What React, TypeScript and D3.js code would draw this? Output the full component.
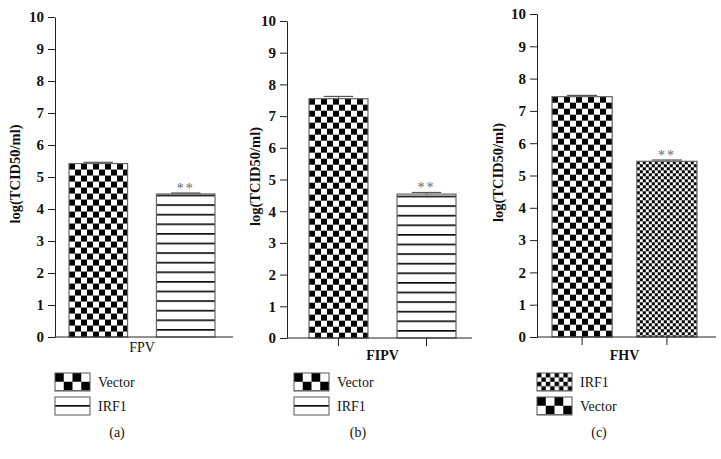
import React from "react";
import * as d3 from "d3";

// data
const panelNames = ["(a)", "(b)", "(c)"];
const virusNames = ["FPV", "FIPV", "FHV"];
const groups = ["Vector", "IRF1"];
const vectorMeans = [5.42, 7.55, 7.44];
const vectorErrs = [0.04, 0.07, 0.04];
const irf1Means = [4.47, 4.54, 5.44];
const irf1Errs = [0.03, 0.05, 0.04];
const yTicks = [0, 1, 2, 3, 4, 5, 6, 7, 8, 9, 10];
const legendOrder = [["Vector", "IRF1"], ["Vector", "IRF1"], ["IRF1", "Vector"]];
const irf1Fill = ["stripes", "stripes", "fine"];

const layout = [
  { axisX: 55, xEnd: 233, yTop: 17, yBottom: 337, bars: [69, 215], pad: 0.33, labelX: 15, nameY: 352, bold: false, ticks: false, legendX: 55, figX: 117 },
  { axisX: 287, xEnd: 472, yTop: 21, yBottom: 338, bars: [309, 456], pad: 0.33, labelX: 255, nameY: 360, bold: true, ticks: true, legendX: 294, figX: 358 },
  { axisX: 537, xEnd: 716, yTop: 14, yBottom: 337, bars: [552, 697], pad: 0.29, labelX: 498, nameY: 360, bold: true, ticks: true, legendX: 537, figX: 599 },
];

const FONT = '"Liberation Serif", "Times New Roman", serif';

const App = () => {
  const ref = React.useRef<SVGSVGElement>(null);

  React.useEffect(() => {
    const svg = d3.select(ref.current);
    svg.selectAll("*").remove();
    const defs = svg.append("defs");
    let pid = 0;

    // checker or stripe pattern anchored at (x0, y0)
    const makePattern = (kind: string, cell: number, x0: number, y0: number) => {
      const id = "pat" + pid++;
      if (kind === "stripes") {
        const p = defs.append("pattern")
          .attr("id", id)
          .attr("patternUnits", "userSpaceOnUse")
          .attr("x", x0).attr("y", y0)
          .attr("width", 20).attr("height", cell);
        p.append("rect").attr("width", 20).attr("height", cell).attr("fill", "white");
        p.append("rect").attr("y", 0).attr("width", 20).attr("height", 1.7).attr("fill", "#111");
      } else {
        const p = defs.append("pattern")
          .attr("id", id)
          .attr("patternUnits", "userSpaceOnUse")
          .attr("x", x0).attr("y", y0)
          .attr("width", cell * 2).attr("height", cell * 2);
        p.append("rect").attr("width", cell * 2).attr("height", cell * 2).attr("fill", "white");
        p.append("rect").attr("width", cell).attr("height", cell).attr("fill", "black");
        p.append("rect").attr("x", cell).attr("y", cell).attr("width", cell).attr("height", cell).attr("fill", "black");
      }
      return "url(#" + id + ")";
    };

    layout.forEach((L, i) => {
      const g = svg.append("g");
      const y = d3.scaleLinear().domain([0, 10]).range([L.yBottom, L.yTop]);
      const x = d3.scaleBand().domain(groups).range(L.bars).paddingInner(L.pad).paddingOuter(0);
      const means = [vectorMeans[i], irf1Means[i]];
      const errs = [vectorErrs[i], irf1Errs[i]];

      // y axis
      const yAxis = g.append("g")
        .attr("transform", `translate(${L.axisX},0)`)
        .call(d3.axisLeft(y).tickValues(yTicks).tickFormat(d3.format("d")).tickSize(7).tickSizeOuter(0).tickPadding(4));
      yAxis.select(".domain").attr("stroke", "#222");
      yAxis.selectAll(".tick line").attr("stroke", "#222");
      yAxis.selectAll("text")
        .attr("font-family", FONT).attr("font-size", "15px").attr("font-weight", "bold").attr("fill", "#111");

      // bars
      groups.forEach((grp, k) => {
        const bx = x(grp) as number;
        const top = y(means[k]);
        let fill;
        if (grp === "Vector") fill = makePattern("checker", 6, bx, top);
        else if (irf1Fill[i] === "fine") fill = makePattern("checker", 3, bx, top);
        else fill = makePattern("stripes", 9.6, bx, L.yBottom - 8);
        g.append("rect")
          .attr("x", bx).attr("y", top)
          .attr("width", x.bandwidth()).attr("height", L.yBottom - top)
          .attr("fill", fill)
          .attr("stroke", "#666").attr("stroke-width", 1.2);

        // error bar
        const cx = bx + x.bandwidth() / 2;
        const ey = y(means[k] + errs[k]);
        g.append("line").attr("x1", cx).attr("x2", cx).attr("y1", top).attr("y2", ey).attr("stroke", "#555");
        g.append("line").attr("x1", cx - x.bandwidth() / 4).attr("x2", cx + x.bandwidth() / 4)
          .attr("y1", ey).attr("y2", ey).attr("stroke", "#555").attr("stroke-width", 1.2);

        if (grp === "IRF1") {
          g.append("text")
            .attr("x", cx).attr("y", ey)
            .attr("text-anchor", "middle")
            .attr("font-family", FONT).attr("font-size", "14px").attr("fill", "#666")
            .attr("letter-spacing", "2px")
            .text("**");
        }
      });

      // x axis
      g.append("line")
        .attr("x1", L.axisX).attr("x2", L.xEnd)
        .attr("y1", L.yBottom).attr("y2", L.yBottom)
        .attr("stroke", "#222");
      if (L.ticks) {
        groups.forEach((grp) => {
          const cx = (x(grp) as number) + x.bandwidth() / 2;
          g.append("line").attr("x1", cx).attr("x2", cx)
            .attr("y1", L.yBottom).attr("y2", L.yBottom + 8).attr("stroke", "#222");
        });
      }
      g.append("text")
        .attr("x", (L.bars[0] + L.bars[1]) / 2).attr("y", L.nameY)
        .attr("text-anchor", "middle")
        .attr("font-family", FONT).attr("font-size", "14px")
        .attr("font-weight", L.bold ? "bold" : "normal").attr("fill", "#111")
        .text(virusNames[i]);

      // y label
      g.append("text")
        .attr("transform", `translate(${L.labelX + 5},${(L.yTop + L.yBottom) / 2 - 3}) rotate(-90)`)
        .attr("text-anchor", "middle")
        .attr("font-family", FONT).attr("font-size", "14.5px").attr("font-weight", "bold").attr("fill", "#111")
        .text("log(TCID50/ml)");

      // legend
      legendOrder[i].forEach((grp, k) => {
        const ly = 373 + k * 24;
        let fill;
        if (grp === "Vector") fill = makePattern("checker", 8.75, L.legendX, ly);
        else if (irf1Fill[i] === "fine") fill = makePattern("checker", 4.4, L.legendX, ly);
        else fill = makePattern("stripes", 18, L.legendX, ly + 8);
        g.append("rect")
          .attr("x", L.legendX).attr("y", ly)
          .attr("width", 35).attr("height", 18)
          .attr("fill", fill)
          .attr("stroke", "#555").attr("stroke-width", 1);
        g.append("text")
          .attr("x", L.legendX + 43).attr("y", ly + 14)
          .attr("font-family", FONT).attr("font-size", "14px").attr("fill", "#111")
          .text(grp);
      });

      g.append("text")
        .attr("x", L.figX).attr("y", 437)
        .attr("text-anchor", "middle")
        .attr("font-family", FONT).attr("font-size", "14px").attr("fill", "#111")
        .text(panelNames[i]);
    });
  }, []);

  return (
    <svg ref={ref} width={721} height={459}
      style={{ position: "absolute", left: 0, top: 0, background: "white" }} />
  );
};

export default App;
